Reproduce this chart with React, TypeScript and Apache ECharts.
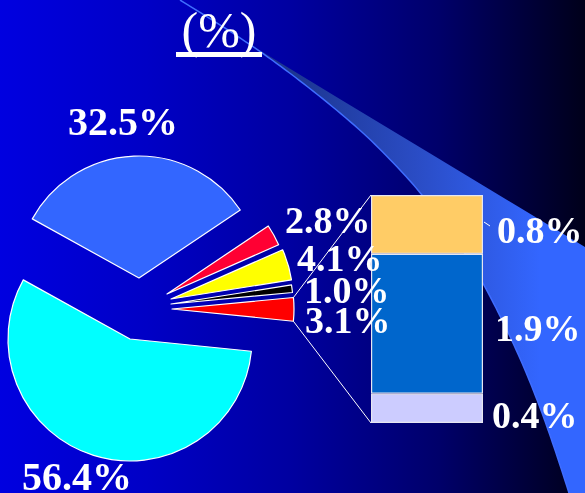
import React, { useEffect, useRef } from "react";
import * as echarts from "echarts";

// ---- data ----
const pieNames = ["Slice A", "Slice B", "Slice C", "Slice D", "Slice E", "Slice F"];
const pieValues = [32.5, 2.8, 4.1, 1.0, 3.1, 56.4];
const barNames = ["Part 1", "Part 2", "Part 3"]; // bottom to top
const barValues = [0.4, 1.9, 0.8];
const titleText = "(%)";

// ---- styles / layout ----
const pieColors = ["#3366FF", "#FF0033", "#FFFF00", "#000000", "#FF0000", "#00FFFF"];
const barColors = ["#CCCCFF", "#0066CC", "#FFCC66"];
const sliceCenters = [
  [139, 278],
  [167, 294],
  [171, 299],
  [171, 304],
  [172, 309],
  [130, 339],
];
const R = 122;
const START = 151;
const detailIndex = 4; // slice broken down in the bar
const pieLabelPos = [
  [68, 121.5],
  [285, 219.5],
  [297, 257.5],
  [304, 289.5],
  [305, 319.5],
  [22, 476],
];
const pieLabelSize = [40, 38, 38, 38, 38, 40];
const barLabelPos = [
  [492, 414.5],
  [495, 328],
  [497, 230],
];
const GRID = { left: 371, top: 195, width: 112, height: 228 };
const FONT = '"Liberation Serif", "Times New Roman", serif';

function catmull(pts: number[][], seg = 10): number[][] {
  const out: number[][] = [];
  const n = pts.length;
  for (let i = 0; i < n - 1; i++) {
    const p0 = pts[Math.max(i - 1, 0)];
    const p1 = pts[i];
    const p2 = pts[i + 1];
    const p3 = pts[Math.min(i + 2, n - 1)];
    for (let s = 0; s < seg; s++) {
      const t = s / seg;
      const t2 = t * t;
      const t3 = t2 * t;
      const f = (a: number, b: number, c: number, d: number) =>
        0.5 * (2 * b + (-a + c) * t + (2 * a - 5 * b + 4 * c - d) * t2 + (-a + 3 * b - 3 * c + d) * t3);
      out.push([f(p0[0], p1[0], p2[0], p3[0]), f(p0[1], p1[1], p2[1], p3[1])]);
    }
  }
  out.push(pts[n - 1]);
  return out;
}

// decorative swoosh outline
const leftEdge = catmull([
  [180, 0],
  [228, 30],
  [272, 60],
  [318, 95],
  [363, 133],
  [400, 170],
  [426, 200],
  [456, 240],
  [481, 280],
  [502, 320],
  [522, 363],
  [539, 405],
  [554, 447],
  [569, 493],
  [574, 510],
]);
const rightEdge = catmull([
  [181, 0],
  [229, 30],
  [274, 59],
  [585, 247],
  [625, 271],
], 4);

export default function App() {
  const ref = useRef<HTMLDivElement>(null);
  useEffect(() => {
    if (!ref.current) return;
    const chart = echarts.init(ref.current, undefined, { renderer: "svg" });

    const total = pieValues.reduce((a, b) => a + b, 0);
    let before = 0;
    for (let i = 0; i < detailIndex; i++) before += pieValues[i];
    const a0 = ((START - (360 * before) / total) * Math.PI) / 180;
    const a1 = ((START - (360 * (before + pieValues[detailIndex])) / total) * Math.PI) / 180;
    const c = sliceCenters[detailIndex];
    const pTop = [c[0] + R * Math.cos(a0), c[1] - R * Math.sin(a0)];
    const pBot = [c[0] + R * Math.cos(a1), c[1] - R * Math.sin(a1)];

    const pieSeries = pieValues.map((_, k) => ({
      type: "pie",
      center: sliceCenters[k],
      radius: [0, R],
      startAngle: START,
      clockwise: true,
      silent: true,
      z: 5,
      label: { show: false },
      labelLine: { show: false },
      emphasis: { disabled: true },
      data: pieValues.map((v, i) => ({
        value: v,
        name: pieNames[i],
        itemStyle:
          i === k
            ? { color: pieColors[i], borderColor: "#FFFFFF", borderWidth: 1.2 }
            : { color: "rgba(0,0,0,0)", borderWidth: 0 },
      })),
    }));

    const barSeries = barValues.map((v, i) => ({
      type: "bar",
      name: barNames[i],
      stack: "s",
      barWidth: "100%",
      silent: true,
      z: 5,
      itemStyle: { color: barColors[i], borderColor: "#E6E6F0", borderWidth: 1.2 },
      data: [v],
    }));

    const swooshPoly = [...rightEdge, [630, 271], [630, 520], ...leftEdge.slice().reverse()];

    const labelText = (x: number, y: number, v: number, size: number) => ({
      type: "text",
      x,
      y,
      z: 20,
      silent: true,
      style: {
        text: `${v.toFixed(1)}%`,
        fill: "#FFFFFF",
        font: `bold ${size}px ${FONT}`,
        align: "left",
        verticalAlign: "middle",
      },
    });

    chart.setOption({
      animation: false,
      grid: { ...GRID, containLabel: false },
      xAxis: { type: "category", data: [""], show: false, boundaryGap: true },
      yAxis: { type: "value", min: 0, max: 3.1, show: false },
      graphic: [
        {
          type: "rect",
          z: 0,
          silent: true,
          shape: { x: 0, y: 0, width: 585, height: 493 },
          style: {
            fill: new echarts.graphic.LinearGradient(0, 0, 1, 0, [
              { offset: 0, color: "#0000E0" },
              { offset: 0.25, color: "#0000C6" },
              { offset: 0.5, color: "#0000A0" },
              { offset: 0.75, color: "#00006A" },
              { offset: 1, color: "#00001A" },
            ]),
          },
        },
        {
          type: "polygon",
          z: 1,
          silent: true,
          shape: { points: swooshPoly },
          style: {
            fill: new echarts.graphic.LinearGradient(
              290,
              0,
              540,
              0,
              [
                { offset: 0, color: "#1C3590" },
                { offset: 0.5, color: "#2A4CC4" },
                { offset: 1, color: "#3366FF" },
              ],
              true
            ),
          },
        },
        {
          type: "polyline",
          z: 2,
          silent: true,
          shape: { points: leftEdge },
          style: { stroke: "#3F6DFF", lineWidth: 1.5, fill: null },
        },
        {
          type: "line",
          z: 6,
          silent: true,
          shape: { x1: pTop[0], y1: pTop[1], x2: GRID.left, y2: GRID.top },
          style: { stroke: "#FFFFFF", lineWidth: 1 },
        },
        {
          type: "line",
          z: 6,
          silent: true,
          shape: { x1: pBot[0], y1: pBot[1], x2: GRID.left, y2: GRID.top + GRID.height },
          style: { stroke: "#FFFFFF", lineWidth: 1 },
        },
        {
          type: "line",
          z: 6,
          silent: true,
          shape: { x1: 484, y1: 222, x2: 490, y2: 226 },
          style: { stroke: "#FFFFFF", lineWidth: 1 },
        },
        {
          type: "text",
          x: 219,
          y: 30,
          z: 20,
          silent: true,
          style: {
            text: titleText,
            fill: "#FFFFFF",
            font: `normal 50px ${FONT}`,
            align: "center",
            verticalAlign: "middle",
          },
        },
        {
          type: "rect",
          z: 20,
          silent: true,
          shape: { x: 176, y: 52, width: 86, height: 5 },
          style: { fill: "#FFFFFF" },
        },
        ...pieValues.map((v, i) => labelText(pieLabelPos[i][0], pieLabelPos[i][1], v, pieLabelSize[i])),
        ...barValues.map((v, i) => labelText(barLabelPos[i][0], barLabelPos[i][1], v, 38)),
      ],
      series: [...pieSeries, ...barSeries],
    });
    return () => chart.dispose();
  }, []);
  return (
    <div
      ref={ref}
      style={{ position: "fixed", left: 0, top: 0, width: 585, height: 493 }}
    />
  );
}
